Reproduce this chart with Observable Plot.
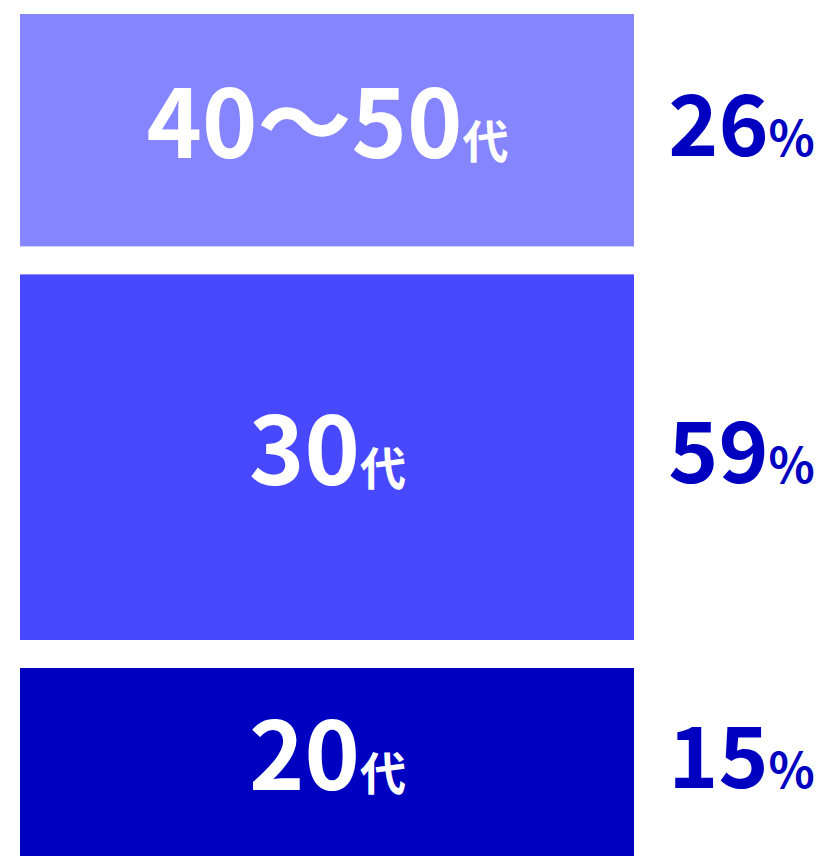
<!DOCTYPE html>
<html>
<head>
<meta charset="utf-8">
<script src="https://cdn.jsdelivr.net/npm/d3@7"></script>
<script src="https://cdn.jsdelivr.net/npm/@observablehq/plot@0.6"></script>
<style>
  html, body { margin: 0; padding: 0; background: #fff; overflow: hidden; }
  #chart svg { display: block; }
</style>
</head>
<body>
<div id="chart"></div>
<script>
// Data (bottom to top)
const categories = ["20代", "30代", "40～50代"];
const shares = [15, 59, 26];
const colors = ["#0000C0", "#4848FF", "#8585FF"];
const labelSuffixes = ["代", "%"];

// layout style: every segment gets a minimum base height in addition to its share
const BASE = 38.5;

const data = categories.map((c, i) => ({category: c, share: shares[i]}));
const total = d3.sum(shares) + BASE * shares.length;
const FONT = "'Noto Sans CJK JP', 'Noto Sans', sans-serif";

const stackOpts = {x: () => "share", y: d => d.share + BASE};

const plot = Plot.plot({
  width: 822,
  height: 856,
  marginTop: 0,
  marginBottom: -14,
  marginLeft: 20,
  marginRight: 188,
  x: {type: "band", domain: ["share"], padding: 0, axis: null},
  y: {domain: [0, total], axis: null},
  color: {domain: categories, range: colors},
  marks: [
    Plot.barY(data, Plot.stackY({...stackOpts, fill: "category", insetTop: 14, insetBottom: 14})),
    Plot.text(data, Plot.stackY({...stackOpts, text: "category", fill: "white",
      fontSize: 94, fontWeight: 700, fontFamily: FONT, dy: -3})),
    Plot.text(data, Plot.stackY({...stackOpts, text: d => d.share + "%", fill: "#0000C0",
      fontSize: 85, fontWeight: 700, fontFamily: FONT, dx: 414, dy: -2}))
  ]
});

// render suffix characters (代, %) at a smaller size
d3.select(plot).selectAll("text").each(function() {
  const t = this.textContent;
  const last = t.slice(-1);
  if (!labelSuffixes.includes(last)) return;
  const el = d3.select(this);
  el.text(null);
  el.append("tspan").text(t.slice(0, -1));
  el.append("tspan").attr("font-size", last === "%" ? 48 : 46).text(last);
});

document.getElementById("chart").appendChild(plot);
</script>
</body>
</html>
